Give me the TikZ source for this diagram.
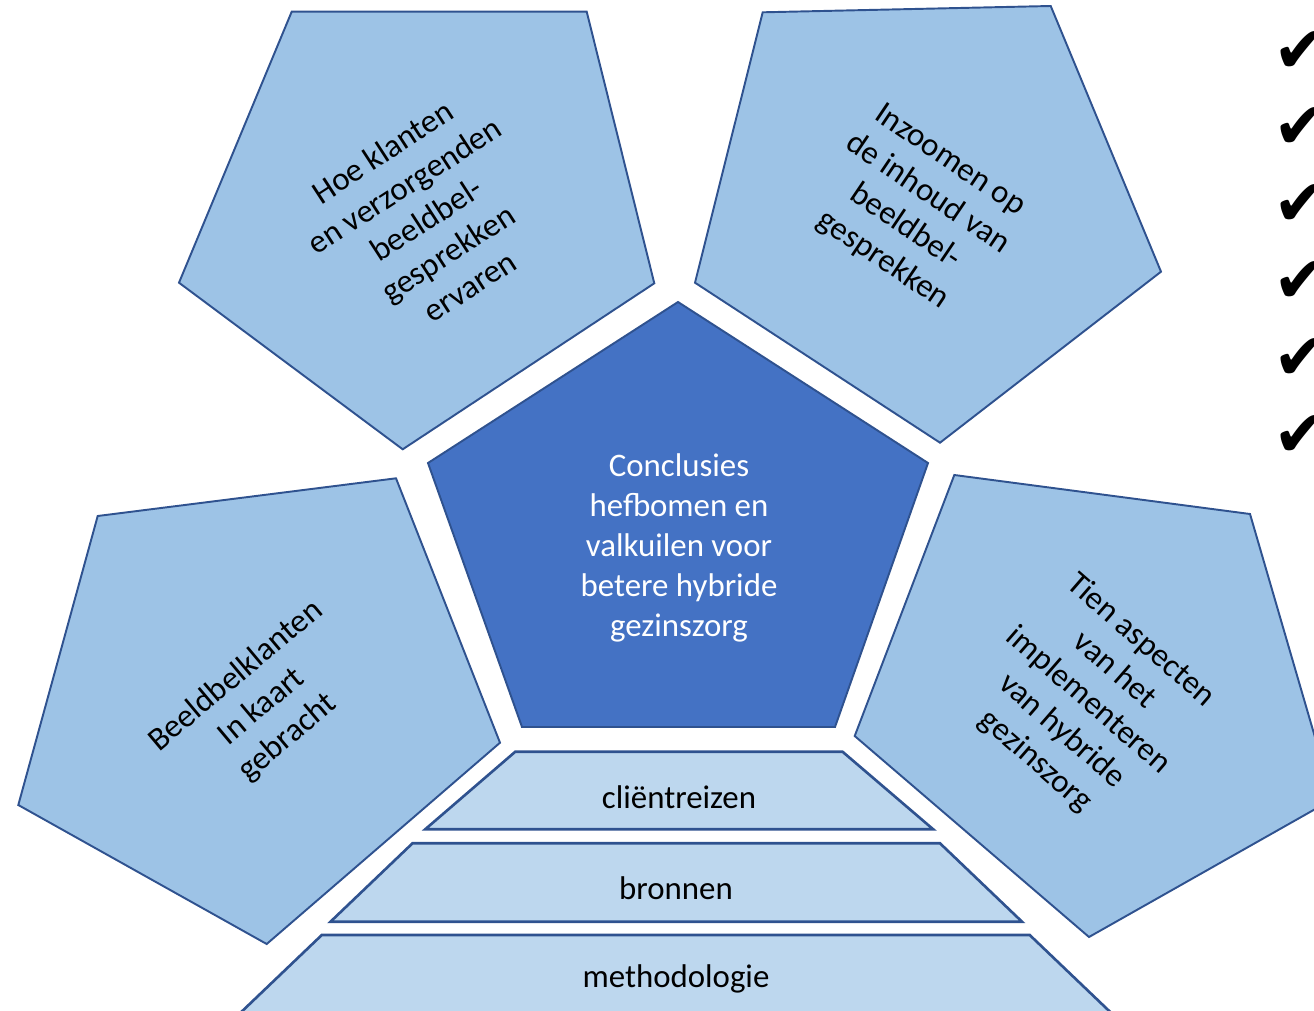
\documentclass[tikz,border=0pt]{standalone}
\usepackage{fontspec}
\setmainfont{Carlito}
\newfontfamily\vinkfont{DejaVu Sans}
\definecolor{lichtblauw}{HTML}{9DC3E6}
\definecolor{donkerblauw}{HTML}{4472C4}
\definecolor{bleekblauw}{HTML}{BDD7EE}
\definecolor{rand}{HTML}{2F528F}

\begin{document}
\begin{tikzpicture}[x=0.02cm,y=-0.02cm]

      \useasboundingbox (0,0) rectangle (1314,1010);
      \clip (0,0) rectangle (1314,1010);

      \begin{scope}[draw=rand,line width=1.1pt]
        % vier vijfhoeken rondom
        \filldraw[fill=lichtblauw] (291.7,11.7) -- (586.7,11.7) -- (654.3,283.3) -- (402.7,449.3) -- (179,282.7) -- cycle;
        \filldraw[fill=lichtblauw] (762.7,12.3) -- (1050.7,6) -- (1161,271.7) -- (940,442.7) -- (695,282.7) -- cycle;
        \filldraw[fill=lichtblauw] (97.7,516) -- (396,478.3) -- (500,742.7) -- (266.7,944) -- (18.3,805) -- cycle;
        \filldraw[fill=lichtblauw] (954.3,475) -- (1250,514) -- (1333,799) -- (1089,937) -- (854.7,736) -- cycle;
        % midden
        \filldraw[fill=donkerblauw] (678,302) -- (928,463) -- (835,727) -- (522,727) -- (428,463) -- cycle;
      \end{scope}

      \begin{scope}[draw=rand,line width=1.5pt,fill=bleekblauw]
        \filldraw (515.3,751.7) -- (842.5,751.7) -- (933.2,829.3) -- (425.2,829.3) -- cycle;
        \filldraw (412.5,843.3) -- (940,843.3) -- (1022,921.7) -- (330.5,921.7) -- cycle;
        \filldraw (321.8,935) -- (1029.7,935) -- (1118.6,1020) -- (232.9,1020) -- cycle;
      \end{scope}

      \begin{scope}[every node/.style={align=center,font=\fontsize{18.7}{22.8}\selectfont}]
        \node (ervaren)  at (426,219)  [rotate=33]  {Hoe klanten\\en verzorgenden\\beeldbel-\\gesprekken\\ervaren};
        \node (inhoud)   at (916,211)  [rotate=-34] {Inzoomen op\\de inhoud van\\beeldbel-\\gesprekken};
        \node (klanten)  at (262,707)  [rotate=40]  {Beeldbelklanten\\In kaart\\gebracht};
        \node (aspecten) at (1088,701) [rotate=-41] {Tien aspecten\\van het\\implementeren\\van hybride\\gezinszorg};
        \node[text=white] (conclusies) at (679,548) {Conclusies\\hefbomen en\\valkuilen voor\\betere hybride\\gezinszorg};
        \node (reizen)   at (679,797)  {cliëntreizen};
        \node (bronnen)  at (676,888)  {bronnen};
        \node (methode)  at (676,979)  {methodologie};
      \end{scope}

      \begin{scope}[every node/.style={font=\vinkfont\fontsize{37}{37}\selectfont}]
        \foreach \i/\y in {1/52,2/128,3/205,4/282,5/359,6/436}
          \node (vink\i) at (1301,\y) {✔};
      \end{scope}

    \end{tikzpicture}
\end{document}
